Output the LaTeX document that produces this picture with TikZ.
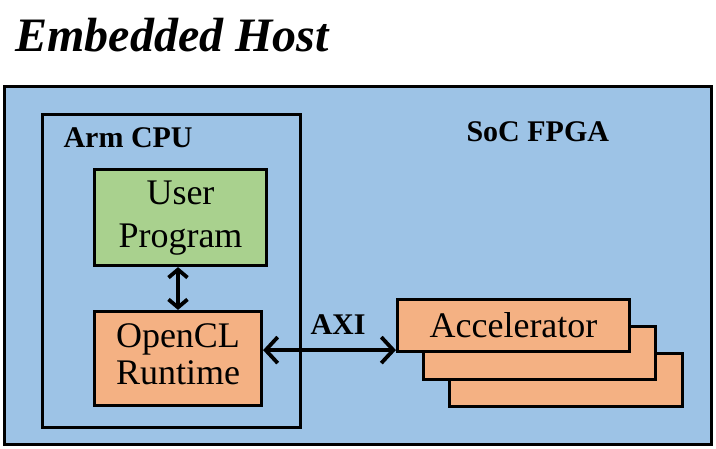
\documentclass[tikz,border=0pt]{standalone}
\usepackage{fontspec}
\setmainfont{Liberation Serif}
\usetikzlibrary{arrows.meta}
\definecolor{socblue}{HTML}{9DC3E6}
\definecolor{usergreen}{HTML}{A9D18E}
\definecolor{rtorange}{HTML}{F4B183}
\newcommand{\twolines}[3]{\raisebox{#1}{\begin{tabular}{@{}c@{}}#2\\#3\end{tabular}}}
\tikzset{
  block/.style={draw=black, line width=3.2pt, inner sep=0pt, align=center},
  bigarrow/.style={line width=3.8pt, {Straight Barb[length=12pt,width=26pt]}-{Straight Barb[length=12pt,width=26pt]}},
  smallarrow/.style={line width=3.8pt, {Straight Barb[length=8pt,width=19pt]}-{Straight Barb[length=8pt,width=19pt]}}
}
\begin{document}
\begin{tikzpicture}[x=1pt,y=-1pt]

 \useasboundingbox (0,0) rectangle (716,449);

 \node [anchor=base west, font=\fontsize{48}{56}\selectfont\bfseries\itshape] (title) at (12,52) {Embedded Host};

 % the SoC and the CPU
 \node [block, fill=socblue, minimum width=707pt, minimum height=358pt] (soc) at (358,265.5) {};
 \node [block, fill=socblue, minimum width=258pt, minimum height=313pt] (cpu) at (171.5,271) {};
 \node [anchor=base west, font=\fontsize{30}{36}\selectfont\bfseries] (cpulabel) at (60,148) {Arm CPU};
 \node [anchor=base west, font=\fontsize{30}{36}\selectfont\bfseries] (soclabel) at (463,142) {SoC FPGA};

 \node [block, fill=usergreen, minimum width=172pt, minimum height=96pt, font=\fontsize{36}{43}\selectfont] (user) at (180.5,217.5) {\twolines{-5pt}{User}{Program}};
 \node [block, fill=rtorange, minimum width=167pt, minimum height=94pt, font=\fontsize{36}{37}\selectfont] (ocl) at (178,358.5) {\twolines{-2pt}{OpenCL}{Runtime}};

 % stacked accelerators, back to front
 \node [block, fill=rtorange, minimum width=233pt, minimum height=53pt] (acc3) at (566,380) {};
 \node [block, fill=rtorange, minimum width=232pt, minimum height=53pt] (acc2) at (539.5,353) {};
 \node [block, fill=rtorange, minimum width=232pt, minimum height=52pt, font=\fontsize{36}{43}\selectfont] (acc1) at (513.5,325.5) {Accelerator};

 \draw [smallarrow] (ocl.north |- user.south) -- (ocl.north);
 \draw [bigarrow] ([yshift=3pt]ocl.east |- acc1.south west) -- ([yshift=3pt]acc1.south west);
 \node [anchor=base west, font=\fontsize{30}{36}\selectfont\bfseries] (axi) at (307,335) {AXI};

\end{tikzpicture}
\end{document}
